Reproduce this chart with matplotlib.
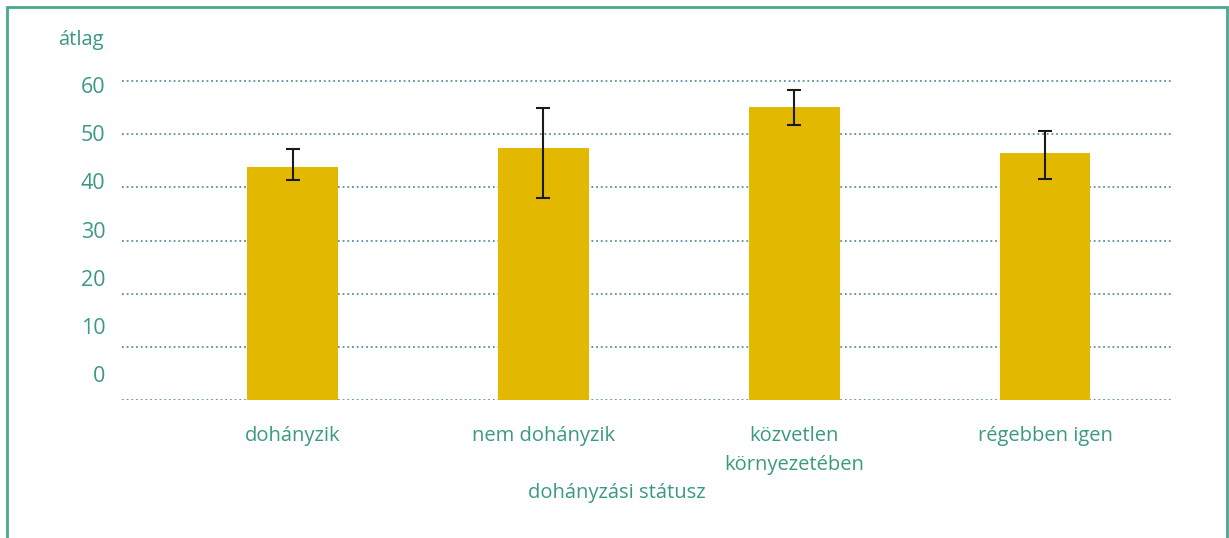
import matplotlib.pyplot as plt
from matplotlib.patches import Rectangle

categories = ['dohányzik', 'nem dohányzik', 'közvetlen\nkörnyezetében', 'régebben igen']
means = [43.9, 47.5, 55.2, 46.5]
ci_low = [41.5, 38.0, 51.8, 41.6]
ci_high = [47.3, 55.0, 58.4, 50.7]
grid_values = [0, 10, 20, 30, 40, 50, 60]
tick_labels = ['0', '10', '20', '30', '40', '50', '60']

teal = '#3a9a80'
bar_color = '#e2b800'
plt.rcParams['font.family'] = ['Open Sans', 'DejaVu Sans']

fig = plt.figure(figsize=(12.29, 5.38), dpi=100)
ax = fig.add_axes([0.0993, 0.2574, 0.8551, 0.601])

x = range(len(categories))
yerr = [[m - lo for m, lo in zip(means, ci_low)],
        [hi - m for m, hi in zip(means, ci_high)]]
ax.bar(x, means, width=0.362, color=bar_color, zorder=2)
ax.errorbar(x, means, yerr=yerr, fmt='none', ecolor='#1a1a1a',
            elinewidth=1.5, capsize=5, capthick=1.5, zorder=3)

# dotted gridlines
for g in grid_values:
    ax.axhline(g, color='#5a8fa8', linestyle=(0, (1, 1.6)), linewidth=1.3, zorder=1)

ax.set_xlim(-0.68, 3.51)
ax.set_ylim(0, 61)

# labels sit a bit off the gridlines in the original
label_pos = [4.8, 13.9, 23.0, 32.0, 41.2, 50.2, 59.3]
ax.set_yticks(label_pos, tick_labels)
ax.set_xticks(list(x), categories)
ax.tick_params(axis='y', length=0, pad=12, labelsize=15.5, labelcolor=teal)
ax.tick_params(axis='x', length=0, pad=19, labelsize=14.5, labelcolor=teal)
for lab in ax.get_yticklabels():
    lab.set_horizontalalignment('right')
for lab in ax.get_xticklabels():
    lab.set_linespacing(1.6)
for s in ax.spines.values():
    s.set_visible(False)

fig.text(0.047, 0.926, 'átlag', color=teal, fontsize=14.5, va='center', ha='left')
fig.text(0.502, 0.084, 'dohányzási státusz', color=teal, fontsize=14.5, va='center', ha='center')

fig.patches.append(Rectangle((0.0055, -0.05), 0.9925, 1.037, transform=fig.transFigure,
                             fill=False, edgecolor='#4aa88f', linewidth=2))

fig.savefig('out.png', dpi=100)
